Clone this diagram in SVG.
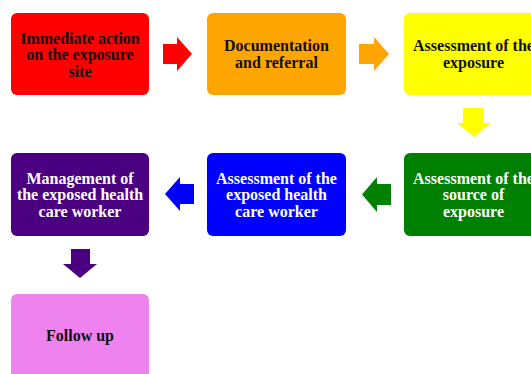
<svg xmlns="http://www.w3.org/2000/svg" width="531" height="374" viewBox="0 0 531 374">
<style>
.box{stroke:none}
.t{font-family:"Liberation Serif","Times New Roman",serif;font-weight:bold;font-size:16px;text-anchor:middle}
.dk{fill:#111}
.lt{fill:#fff}
</style>
<rect width="531" height="374" fill="#fff"/>
<g id="n1"><rect class="box" x="11" y="13" width="138" height="82" rx="6" fill="#ff0000"/>
<text class="t dk" x="80"><tspan x="80" y="43.5">Immediate action</tspan><tspan x="80" y="60">on the exposure</tspan><tspan x="80" y="76.5">site</tspan></text></g>
<g id="n2"><rect class="box" x="207" y="13" width="139" height="82" rx="6" fill="#ffa500"/>
<text class="t dk"><tspan x="276.5" y="51">Documentation</tspan><tspan x="276.5" y="67.5">and referral</tspan></text></g>
<g id="n3"><rect class="box" x="404" y="13" width="139" height="82" rx="6" fill="#ffff00"/>
<text class="t dk"><tspan x="473.5" y="51">Assessment of the</tspan><tspan x="473.5" y="67.5">exposure</tspan></text></g>
<g id="n4"><rect class="box" x="404" y="153" width="139" height="83" rx="6" fill="#008000"/>
<text class="t lt"><tspan x="473.5" y="183.5">Assessment of the</tspan><tspan x="473.5" y="200">source of</tspan><tspan x="473.5" y="216.5">exposure</tspan></text></g>
<g id="n5"><rect class="box" x="207" y="153" width="139" height="83" rx="6" fill="#0000ff"/>
<text class="t lt"><tspan x="276.5" y="183.5">Assessment of the</tspan><tspan x="276.5" y="200">exposed health</tspan><tspan x="276.5" y="216.5">care worker</tspan></text></g>
<g id="n6"><rect class="box" x="11" y="153" width="138" height="83" rx="6" fill="#4b0082"/>
<text class="t lt"><tspan x="80" y="183.5">Management of</tspan><tspan x="80" y="200">the exposed health</tspan><tspan x="80" y="216.5">care worker</tspan></text></g>
<g id="n7"><rect class="box" x="11" y="294" width="138" height="90" rx="6" fill="#ee82ee"/>
<text class="t dk" x="80" y="340.5">Follow up</text></g>
<g id="connectors">
<polygon points="163,44 177,44 177,37 192,54 177,71 177,64 163,64" fill="#ff0000"/>
<polygon points="359,44 374,44 374,37 389,54 374,71 374,64 359,64" fill="#ffa500"/>
<polygon points="463,108 484,108 484,123 491,123 474,137 457,123 463,123" fill="#ffff00"/>
<polygon points="391,184 377,184 377,177 362,194.5 377,212 377,205 391,205" fill="#008000"/>
<polygon points="194,184 180,184 180,177 165,194 180,211 180,204 194,204" fill="#0000ff"/>
<polygon points="71,249 90,249 90,264 97,264 80,278 63,264 71,264" fill="#4b0082"/>
</g>
</svg>
